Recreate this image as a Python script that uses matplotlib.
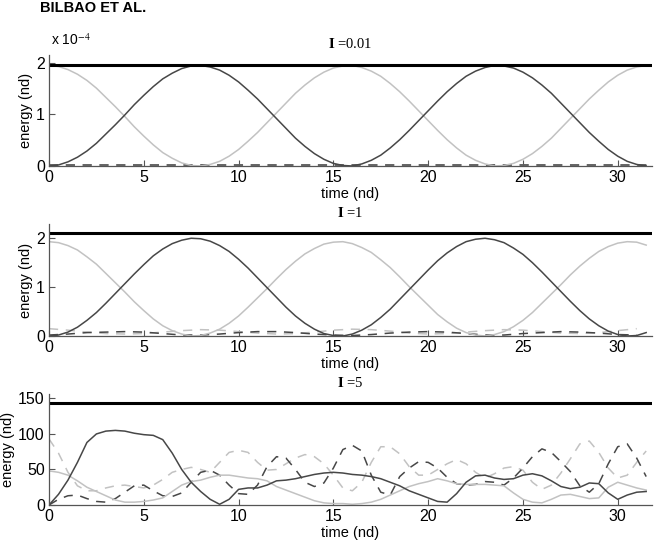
import numpy as np
import matplotlib
matplotlib.use("Agg")
import matplotlib.pyplot as plt

# ==========================================
# DATA
# ==========================================
t = np.arange(0, 32, 0.5)        # fine time grid (nd)
t_coarse = np.arange(0, 32, 1.0)  # coarse grid for the small dashed traces
t_flat = [0, 31.8]

# --- panel 1 : eps = 0.01  (units of 1e-4) ---
p1_total = 1.95
p1_dark = [0.00, 0.02, 0.08, 0.17, 0.29, 0.44, 0.62, 0.80, 0.99, 1.19, 1.37, 1.54, 1.69, 1.80, 1.89, 1.94,
           1.95, 1.92, 1.86, 1.76, 1.63, 1.47, 1.30, 1.11, 0.92, 0.73, 0.54, 0.38, 0.24, 0.13, 0.05, 0.01,
           0.00, 0.04, 0.11, 0.21, 0.35, 0.51, 0.69, 0.88, 1.07, 1.26, 1.44, 1.60, 1.74, 1.84, 1.91, 1.95,
           1.94, 1.90, 1.82, 1.71, 1.57, 1.41, 1.22, 1.03, 0.84, 0.65, 0.48, 0.32, 0.19, 0.09, 0.03, 0.00]
p1_light = [1.95, 1.93, 1.87, 1.78, 1.66, 1.51, 1.33, 1.15, 0.96, 0.76, 0.58, 0.41, 0.26, 0.15, 0.06, 0.01,
            0.00, 0.03, 0.09, 0.19, 0.32, 0.48, 0.65, 0.84, 1.03, 1.22, 1.41, 1.57, 1.71, 1.82, 1.90, 1.94,
            1.95, 1.91, 1.84, 1.74, 1.60, 1.44, 1.26, 1.07, 0.88, 0.69, 0.51, 0.35, 0.21, 0.11, 0.04, 0.00,
            0.01, 0.05, 0.13, 0.24, 0.38, 0.54, 0.73, 0.92, 1.11, 1.30, 1.47, 1.63, 1.76, 1.86, 1.92, 1.95]
p1_dash_dark = [0.01, 0.01]
p1_dash_light = [0.02, 0.02]

# --- panel 2 : eps = 1 ---
p2_total = 2.1
p2_dark = [0.00, 0.02, 0.08, 0.18, 0.32, 0.48, 0.67, 0.87, 1.07, 1.27, 1.46, 1.64, 1.78, 1.89, 1.96, 2.00,
           1.99, 1.94, 1.85, 1.73, 1.57, 1.39, 1.19, 0.99, 0.79, 0.59, 0.41, 0.26, 0.14, 0.05, 0.01, 0.00,
           0.04, 0.12, 0.23, 0.38, 0.55, 0.75, 0.95, 1.15, 1.35, 1.54, 1.70, 1.83, 1.93, 1.98, 2.00, 1.97,
           1.91, 1.80, 1.67, 1.50, 1.31, 1.11, 0.91, 0.71, 0.52, 0.35, 0.21, 0.10, 0.03, 0.00, 0.01, 0.07]
p2_light = [1.93, 1.91, 1.85, 1.76, 1.62, 1.47, 1.28, 1.09, 0.90, 0.70, 0.52, 0.35, 0.21, 0.11, 0.04, 0.00,
            0.01, 0.06, 0.14, 0.26, 0.41, 0.59, 0.78, 0.97, 1.17, 1.36, 1.53, 1.68, 1.79, 1.88, 1.92, 1.93,
            1.89, 1.81, 1.71, 1.56, 1.40, 1.21, 1.01, 0.82, 0.63, 0.44, 0.29, 0.16, 0.07, 0.02, 0.00, 0.03,
            0.09, 0.19, 0.32, 0.48, 0.67, 0.86, 1.05, 1.25, 1.43, 1.59, 1.73, 1.83, 1.90, 1.93, 1.92, 1.86]
p2_dash_dark = [0.02, 0.04, 0.07, 0.08, 0.09, 0.08, 0.05, 0.02, 0.02, 0.04, 0.07, 0.09, 0.09, 0.07, 0.04, 0.02,
                0.01, 0.03, 0.06, 0.08, 0.09, 0.08, 0.05, 0.02, 0.02, 0.05, 0.07, 0.09, 0.08, 0.06, 0.03, 0.02]
p2_dash_light = [0.15, 0.12, 0.08, 0.05, 0.04, 0.05, 0.08, 0.11, 0.13, 0.12, 0.09, 0.06, 0.04, 0.05, 0.08, 0.12,
                 0.14, 0.13, 0.10, 0.06, 0.04, 0.05, 0.08, 0.11, 0.13, 0.12, 0.09, 0.06, 0.05, 0.07, 0.11, 0.15]

# --- panel 3 : eps = 5 ---
p3_total = 143
p3_dark = [0, 15, 35, 60, 88, 100, 104, 105, 104, 101, 99, 98, 92, 73, 50, 32,
           19, 8, 1, 8, 22, 24, 24, 28, 34, 35, 37, 40, 43, 45, 46, 45,
           43, 42, 40, 37, 32, 27, 20, 15, 10, 5, 4, 16, 32, 41, 42, 38,
           36, 37, 42, 44, 41, 34, 26, 23, 25, 31, 30, 17, 8, 14, 18, 19]
p3_light = [48, 46, 42, 34, 25, 19, 13, 7, 4, 4, 5, 7, 10, 19, 28, 33,
            35, 39, 42, 42, 40, 38, 37, 34, 26, 21, 16, 11, 6, 3, 2, 2,
            1, 2, 4, 8, 14, 20, 26, 30, 33, 37, 34, 30, 29, 29, 29, 28,
            27, 17, 8, 4, 3, 8, 14, 15, 12, 9, 10, 25, 32, 28, 24, 21]
p3_dash_dark = [0, 8, 13, 14, 9, 5, 4, 9, 18, 27, 28, 20, 13, 12, 17, 32,
                46, 49, 42, 28, 16, 15, 28, 54, 68, 66, 50, 32, 26, 31, 52, 78,
                84, 76, 42, 18, 14, 40, 52, 61, 60, 52, 39, 30, 28, 29, 33, 32,
                28, 38, 52, 68, 79, 74, 61, 47, 27, 18, 30, 58, 82, 86, 66, 40]
p3_dash_light = [93, 73, 46, 27, 20, 20, 24, 27, 28, 26, 24, 28, 36, 46, 50, 53,
                 50, 46, 60, 74, 77, 74, 60, 49, 50, 58, 66, 71, 68, 58, 42, 24,
                 20, 32, 60, 82, 82, 72, 54, 42, 42, 50, 58, 64, 58, 46, 38, 44,
                 52, 54, 49, 32, 22, 28, 45, 65, 86, 90, 74, 52, 38, 42, 60, 76]

titles = ["=0.01", "=1", "=5"]
yticks = [[0, 1, 2], [0, 1, 2], [0, 50, 100, 150]]
ylims = [2.15, 2.29, 156]
xticks = [0, 5, 10, 15, 20, 25, 30]

# ==========================================
# STYLE
# ==========================================
plt.rcParams['font.family'] = ['Liberation Sans', 'DejaVu Sans']
plt.rcParams['mathtext.fontset'] = 'stix'
DARK = '#474747'
LIGHT = '#c2c2c2'

fig = plt.figure(figsize=(6.56, 5.46), dpi=100)

boxes = [[0.0747, 0.696, 0.919, 0.203],
         [0.0747, 0.3846, 0.919, 0.205],
         [0.0747, 0.0751, 0.919, 0.203]]

panels = [
    (t, p1_dark, p1_light, t_flat, p1_dash_dark, p1_dash_light, p1_total),
    (t, p2_dark, p2_light, t_coarse, p2_dash_dark, p2_dash_light, p2_total),
    (t, p3_dark, p3_light, t, p3_dash_dark, p3_dash_light, p3_total),
]

for i, (tt, dark, light, td, ddark, dlight, total) in enumerate(panels):
    ax = fig.add_axes(boxes[i])
    ax.plot(td, dlight, color=LIGHT, lw=1.1, ls=(0, (6, 5)))
    ax.plot(td, ddark, color=DARK, lw=1.1, ls=(0, (6, 5)))
    ax.plot(tt, light, color=LIGHT, lw=1.1)
    ax.plot(tt, dark, color=DARK, lw=1.1)
    ax.axhline(total, color='black', lw=2.2)

    ax.set_xlim(0, 31.8)
    ax.set_ylim(0, ylims[i])
    ax.set_xticks(xticks)
    ax.set_yticks(yticks[i])
    ax.spines['top'].set_visible(False)
    ax.spines['right'].set_visible(False)
    for s in ['left', 'bottom']:
        ax.spines[s].set_color('#555555')
        ax.spines[s].set_linewidth(0.9)
    ax.tick_params(direction='in', length=4, width=0.8, color='#555555',
                   labelsize=11.5, pad=3)
    ax.set_ylabel("energy (nd)", fontsize=10.5, labelpad=2)
    ax.set_xlabel("time (nd)", fontsize=10.5, labelpad=1)
    ax.set_title(r"$\mathbf{I}$ " + titles[i], fontsize=10.5,
                 family='Liberation Serif', pad=5)

fig.text(0.078, 0.912, r"x 10$^{-4}$", fontsize=10, va='bottom')
fig.text(0.061, 0.978, "BILBAO ET AL.", fontsize=10.5, fontweight='bold',
         va='baseline', ha='left')

fig.savefig("out.png", dpi=100)
